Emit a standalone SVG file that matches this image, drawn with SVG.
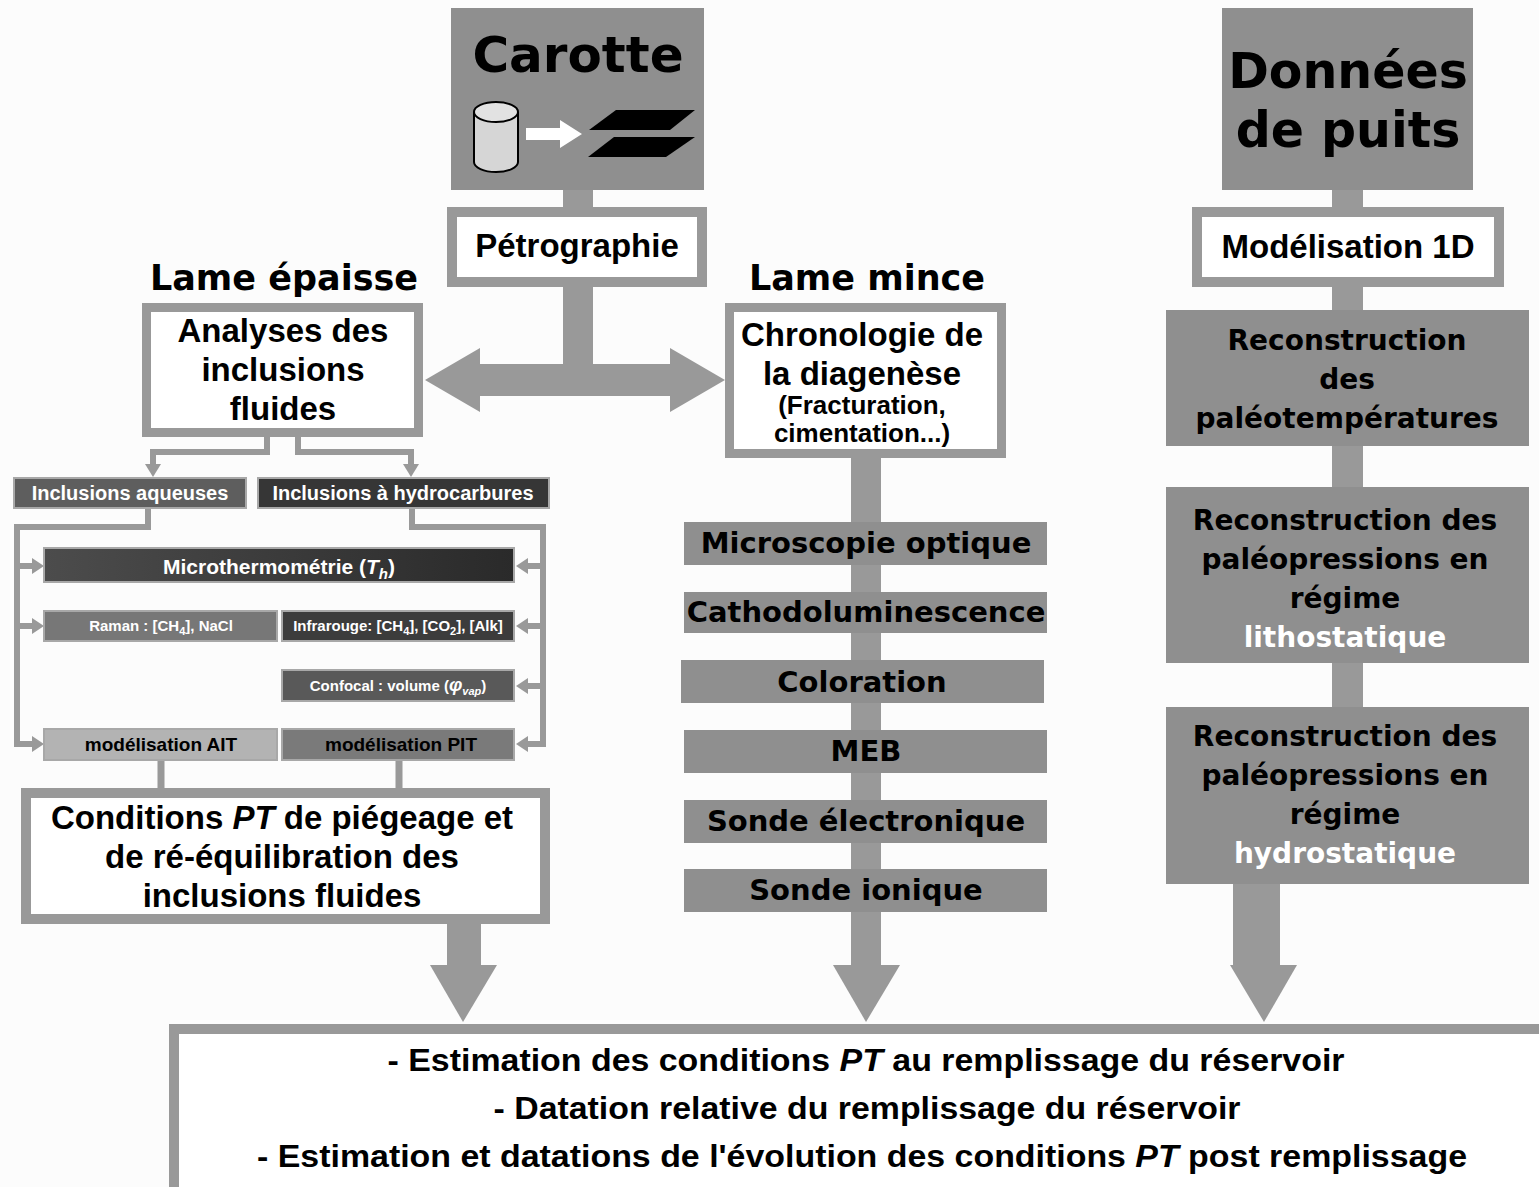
<svg xmlns="http://www.w3.org/2000/svg" width="1539" height="1187" viewBox="0 0 1539 1187">
<style>
.bg{fill:#fcfcfc}
.gbox{fill:#8f8f8f}
.wbox{fill:#ffffff;stroke:#999999}
.conn{fill:#999999}
.ln{fill:none;stroke:#999999;stroke-width:7}
.lns{fill:none;stroke:#999999;stroke-width:6}
.ah{fill:#999999}
.dv{font-family:"DejaVu Sans",Verdana,sans-serif;font-weight:bold;text-anchor:middle;fill:#000}
.ar{font-family:"Liberation Sans",Arial,sans-serif;font-weight:bold;text-anchor:middle;fill:#000}
.wt{fill:#ffffff}
.sb{stroke:#a8a8a8;stroke-width:2}
</style>
<defs>
<linearGradient id="gMicro" x1="0" y1="0" x2="1" y2="0">
<stop offset="0" stop-color="#4c4c4c"/>
<stop offset="1" stop-color="#2a2a2a"/>
</linearGradient>
</defs>
<rect class="bg" x="0" y="0" width="1539" height="1187"/>

<g id="connectors">
<!-- Carotte -> Petrographie -->
<rect class="conn" x="563" y="188" width="30" height="22"/>
<!-- Petrographie stem + double arrow -->
<rect class="conn" x="563" y="283" width="30" height="82"/>
<polygon class="conn" points="425,380 480,348 480,364 670,364 670,348 725,380 670,412 670,396 480,396 480,412"/>
<!-- Chronologie -> bottom -->
<rect class="conn" x="851" y="457" width="30" height="510"/>
<polygon class="conn" points="833,965 900,965 866,1022"/>
<!-- Conditions -> bottom -->
<rect class="conn" x="447" y="920" width="34" height="47"/>
<polygon class="conn" points="430,965 497,965 463,1022"/>
<!-- right column -->
<rect class="conn" x="1332" y="188" width="31" height="22"/>
<rect class="conn" x="1332" y="284" width="31" height="28"/>
<rect class="conn" x="1332" y="444" width="31" height="45"/>
<rect class="conn" x="1332" y="661" width="31" height="48"/>
<rect class="conn" x="1233" y="882" width="47" height="85"/>
<polygon class="conn" points="1230,965 1297,965 1264,1022"/>
<!-- Analyses -> inclusions -->
<polyline class="lns" points="267,436 267,452 153,452 153,467"/>
<polygon class="ah" points="145,464 161,464 153,477"/>
<polyline class="lns" points="298,436 298,452 411,452 411,467"/>
<polygon class="ah" points="403,464 419,464 411,477"/>
<!-- left trunk -->
<polyline class="lns" points="148,507 148,527 17,527 17,744"/>
<line class="lns" x1="17" y1="566" x2="34" y2="566"/>
<polygon class="ah" points="32,558 32,574 44,566"/>
<line class="lns" x1="17" y1="626" x2="34" y2="626"/>
<polygon class="ah" points="32,618 32,634 44,626"/>
<line class="lns" x1="14" y1="744" x2="34" y2="744"/>
<polygon class="ah" points="32,736 32,752 44,744"/>
<!-- right trunk -->
<polyline class="lns" points="412,507 412,527 543,527 543,744"/>
<line class="lns" x1="543" y1="566" x2="526" y2="566"/>
<polygon class="ah" points="528,558 528,574 516,566"/>
<line class="lns" x1="543" y1="626" x2="526" y2="626"/>
<polygon class="ah" points="528,618 528,634 516,626"/>
<line class="lns" x1="543" y1="686" x2="526" y2="686"/>
<polygon class="ah" points="528,678 528,694 516,686"/>
<line class="lns" x1="546" y1="744" x2="526" y2="744"/>
<polygon class="ah" points="528,736 528,752 516,744"/>
<!-- modelisation -> Conditions -->
<line class="ln" x1="161" y1="760" x2="161" y2="792"/>
<line class="ln" x1="399" y1="760" x2="399" y2="792"/>
</g>

<g id="carotte">
<rect class="gbox" x="451" y="8" width="253" height="182"/>
<text class="dv" x="578" y="72" font-size="50">Carotte</text>
<path d="M474,112 L474,162 A22,10 0 0 0 518,162 L518,112" fill="#d6d6d6" stroke="#000" stroke-width="2"/>
<ellipse cx="496" cy="112" rx="22" ry="10" fill="#e2e2e2" stroke="#000" stroke-width="2"/>
<polygon points="526,128 560,128 560,120 582,134 560,148 560,140 526,140" fill="#ffffff"/>
<polygon points="589,130 616,110 695,110 670,130" fill="#000"/>
<polygon points="588,157 614,137 695,137 666,157" fill="#000"/>
</g>

<g id="petrographie">
<rect class="wbox" x="452" y="212" width="250" height="70" stroke-width="10"/>
<text class="ar" x="577" y="257" font-size="33">Pétrographie</text>
</g>

<g id="lame-epaisse">
<text class="dv" x="284" y="290" font-size="35">Lame épaisse</text>
</g>
<g id="lame-mince">
<text class="dv" x="867" y="290" font-size="35">Lame mince</text>
</g>

<g id="analyses">
<rect class="wbox" x="146.5" y="307.5" width="272" height="125" stroke-width="9"/>
<text class="ar" x="283" y="342" font-size="33">Analyses des</text>
<text class="ar" x="283" y="381" font-size="33">inclusions</text>
<text class="ar" x="283" y="420" font-size="33">fluides</text>
</g>

<g id="chronologie">
<rect class="wbox" x="729.5" y="307.5" width="272" height="146" stroke-width="9"/>
<text class="ar" x="862" y="346" font-size="33">Chronologie de</text>
<text class="ar" x="862" y="385" font-size="33">la diagenèse</text>
<text class="ar" x="862" y="414" font-size="26">(Fracturation,</text>
<text class="ar" x="862" y="442" font-size="26">cimentation...)</text>
</g>

<g id="inclusions-aqueuses">
<rect x="14" y="478" width="232" height="30" fill="#5e5e5e" class="sb"/>
<text class="ar wt" x="130" y="500" font-size="20">Inclusions aqueuses</text>
</g>
<g id="inclusions-hydrocarbures">
<rect x="258" y="478" width="291" height="30" fill="#363636" class="sb"/>
<text class="ar wt" x="403" y="500" font-size="20">Inclusions à hydrocarbures</text>
</g>
<g id="microthermometrie">
<rect x="44" y="548" width="470" height="34" fill="url(#gMicro)" class="sb"/>
<text class="ar wt" x="279" y="574" font-size="21">Microthermométrie (<tspan font-style="italic">T</tspan><tspan font-style="italic" font-size="15" dy="5">h</tspan><tspan dy="-5">)</tspan></text>
</g>
<g id="raman">
<rect x="44" y="611" width="233" height="30" fill="#777777" class="sb"/>
<text class="ar wt" x="161" y="631" font-size="15">Raman : [CH<tspan font-size="11" dy="4">4</tspan><tspan dy="-4">], NaCl</tspan></text>
</g>
<g id="infrarouge">
<rect x="282" y="611" width="232" height="30" fill="#3c3c3c" class="sb"/>
<text class="ar wt" x="398" y="631" font-size="15">Infrarouge: [CH<tspan font-size="11" dy="4">4</tspan><tspan dy="-4">], [CO</tspan><tspan font-size="11" dy="4">2</tspan><tspan dy="-4">], [Alk]</tspan></text>
</g>
<g id="confocal">
<rect x="282" y="670" width="232" height="31" fill="#595959" class="sb"/>
<text class="ar wt" x="398" y="691" font-size="15">Confocal : volume (<tspan font-style="italic" font-size="19">φ</tspan><tspan font-style="italic" font-size="11" dy="4">vap</tspan><tspan dy="-4">)</tspan></text>
</g>
<g id="modelisation-ait">
<rect x="44" y="729" width="233" height="31" fill="#b3b3b3" class="sb"/>
<text class="ar" x="161" y="751" font-size="19">modélisation AIT</text>
</g>
<g id="modelisation-pit">
<rect x="282" y="729" width="232" height="31" fill="#7a7a7a" class="sb"/>
<text class="ar" x="401" y="751" font-size="19">modélisation PIT</text>
</g>

<g id="conditions">
<rect class="wbox" x="26" y="793" width="519" height="126" stroke-width="10"/>
<text class="ar" x="282" y="829" font-size="33">Conditions <tspan font-style="italic">PT</tspan> de piégeage et</text>
<text class="ar" x="282" y="868" font-size="33">de ré-équilibration des</text>
<text class="ar" x="282" y="907" font-size="33">inclusions fluides</text>
</g>

<g id="microscopie">
<rect class="gbox" x="684" y="522" width="363" height="43"/>
<text class="dv" x="866" y="553" font-size="29">Microscopie optique</text>
</g>
<g id="cathodoluminescence">
<rect class="gbox" x="684" y="592" width="363" height="41"/>
<text class="dv" x="866" y="622" font-size="29">Cathodoluminescence</text>
</g>
<g id="coloration">
<rect class="gbox" x="681" y="660" width="363" height="43"/>
<text class="dv" x="862" y="692" font-size="29">Coloration</text>
</g>
<g id="meb">
<rect class="gbox" x="684" y="730" width="363" height="43"/>
<text class="dv" x="866" y="761" font-size="29">MEB</text>
</g>
<g id="sonde-electronique">
<rect class="gbox" x="684" y="800" width="363" height="43"/>
<text class="dv" x="866" y="831" font-size="29">Sonde électronique</text>
</g>
<g id="sonde-ionique">
<rect class="gbox" x="684" y="869" width="363" height="43"/>
<text class="dv" x="866" y="900" font-size="29">Sonde ionique</text>
</g>

<g id="donnees">
<rect class="gbox" x="1222" y="8" width="251" height="182"/>
<text class="dv" x="1348" y="88" font-size="49">Données</text>
<text class="dv" x="1348" y="147" font-size="49">de puits</text>
</g>
<g id="modelisation-1d">
<rect class="wbox" x="1197" y="212" width="302" height="70" stroke-width="10"/>
<text class="ar" x="1348" y="258" font-size="33">Modélisation 1D</text>
</g>
<g id="paleotemperatures">
<rect class="gbox" x="1166" y="310" width="363" height="136"/>
<text class="dv" x="1347" y="350" font-size="28">Reconstruction</text>
<text class="dv" x="1347" y="389" font-size="28">des</text>
<text class="dv" x="1347" y="428" font-size="28">paléotempératures</text>
</g>
<g id="paleopressions-litho">
<rect class="gbox" x="1166" y="487" width="363" height="176"/>
<text class="dv" x="1345" y="530" font-size="28">Reconstruction des</text>
<text class="dv" x="1345" y="569" font-size="28">paléopressions en</text>
<text class="dv" x="1345" y="608" font-size="28">régime</text>
<text class="dv wt" x="1345" y="647" font-size="28">lithostatique</text>
</g>
<g id="paleopressions-hydro">
<rect class="gbox" x="1166" y="707" width="363" height="177"/>
<text class="dv" x="1345" y="746" font-size="28">Reconstruction des</text>
<text class="dv" x="1345" y="785" font-size="28">paléopressions en</text>
<text class="dv" x="1345" y="824" font-size="28">régime</text>
<text class="dv wt" x="1345" y="863" font-size="28">hydrostatique</text>
</g>

<g id="synthese">
<rect class="wbox" x="174" y="1029" width="1375" height="165" stroke-width="10"/>
<text class="ar" x="866" y="1071" font-size="32" textLength="957" lengthAdjust="spacingAndGlyphs">- Estimation des conditions <tspan font-style="italic">PT</tspan> au remplissage du réservoir</text>
<text class="ar" x="867" y="1119" font-size="32" textLength="747" lengthAdjust="spacingAndGlyphs">- Datation relative du remplissage du réservoir</text>
<text class="ar" x="862" y="1167" font-size="32" textLength="1210" lengthAdjust="spacingAndGlyphs">- Estimation et datations de l'évolution des conditions <tspan font-style="italic">PT</tspan> post remplissage</text>
</g>
</svg>
